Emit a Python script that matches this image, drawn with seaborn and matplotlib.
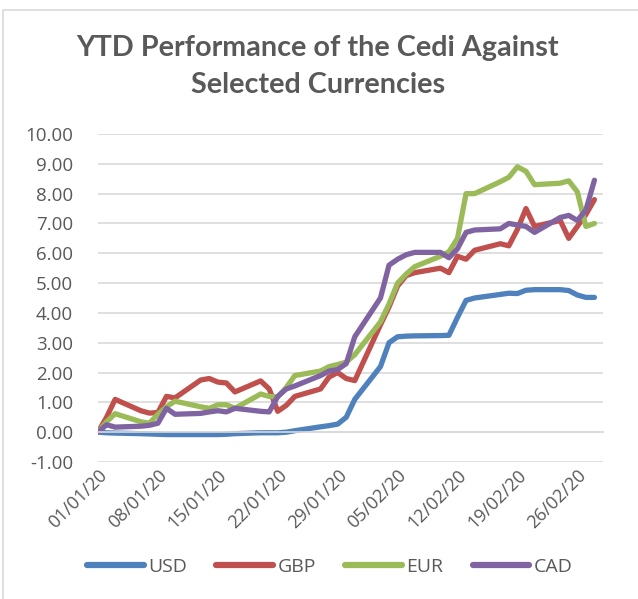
import pandas as pd
import matplotlib.pyplot as plt
import matplotlib.dates as mdates
from matplotlib.patches import Rectangle
import seaborn as sns

# Business days, Jan-Feb 2020
dates = pd.bdate_range('2020-01-01', '2020-02-28')

usd = [0.00, -0.02, -0.03, -0.05, -0.06, -0.07, -0.08, -0.08, -0.08, -0.08,
       -0.08, -0.07, -0.05, -0.02, -0.02, -0.02, 0.00, 0.05, 0.18, 0.22,
       0.27, 0.50, 1.10, 2.20, 3.00, 3.20, 3.22, 3.23, 3.24, 3.25,
       3.85, 4.42, 4.50, 4.62, 4.66, 4.65, 4.76, 4.78, 4.78, 4.75,
       4.60, 4.52, 4.52]
gbp = [0.00, 0.50, 1.10, 0.72, 0.64, 0.66, 1.20, 1.15, 1.75, 1.80,
       1.68, 1.65, 1.35, 1.72, 1.45, 0.70, 0.90, 1.20, 1.45, 1.85,
       2.00, 1.80, 1.73, 3.60, 4.20, 4.90, 5.25, 5.35, 5.50, 5.35,
       5.90, 5.80, 6.10, 6.32, 6.25, 6.80, 7.50, 6.90, 7.10, 6.50,
       6.90, 7.30, 7.80]
eur = [0.00, 0.35, 0.62, 0.35, 0.30, 0.60, 0.85, 1.04, 0.85, 0.80,
       0.92, 0.92, 0.80, 1.28, 1.20, 1.18, 1.50, 1.90, 2.05, 2.20,
       2.27, 2.35, 2.60, 3.70, 4.30, 5.00, 5.30, 5.55, 5.90, 6.05,
       6.50, 8.00, 8.00, 8.40, 8.55, 8.90, 8.75, 8.30, 8.35, 8.43,
       8.06, 6.90, 7.00]
cad = [0.00, 0.25, 0.17, 0.20, 0.23, 0.30, 0.80, 0.60, 0.63, 0.68,
       0.72, 0.68, 0.80, 0.70, 0.68, 1.20, 1.45, 1.55, 1.90, 2.05,
       2.10, 2.30, 3.20, 4.50, 5.60, 5.80, 5.95, 6.03, 6.03, 5.85,
       6.15, 6.70, 6.78, 6.82, 7.00, 6.95, 6.90, 6.70, 7.20, 7.27,
       7.10, 7.45, 8.45]

currencies = ['USD', 'GBP', 'EUR', 'CAD']
colors = ['#4F81BD', '#C0504D', '#9BBB59', '#8064A2']
y_ticks = [-1, 0, 1, 2, 3, 4, 5, 6, 7, 8, 9, 10]
x_ticks = pd.date_range('2020-01-01', '2020-02-26', freq='7D')

df = pd.DataFrame({'date': dates, 'USD': usd, 'GBP': gbp, 'EUR': eur, 'CAD': cad})
long = df.melt(id_vars='date', var_name='currency', value_name='pct')

sns.set_style('white')
plt.rcParams['font.family'] = ['Open Sans', 'DejaVu Sans']
text_color = '#595959'
grid_color = '#d9d9d9'

fig = plt.figure(figsize=(6.38, 5.99), dpi=100)
ax = fig.add_axes([98 / 638, 1 - 462 / 599, (603 - 98) / 638, (462 - 134) / 599])

sns.lineplot(data=long, x='date', y='pct', hue='currency', hue_order=currencies,
             palette=colors, linewidth=3.8, ax=ax, legend=True)

ax.set_xlim(pd.Timestamp('2020-01-01'), pd.Timestamp('2020-02-29'))
ax.set_ylim(-1, 10)
ax.set_yticks(y_ticks)
ax.yaxis.set_major_formatter(plt.FuncFormatter(lambda v, p: f'{v:.2f}'))
ax.set_xticks(x_ticks)
ax.xaxis.set_major_formatter(mdates.DateFormatter('%d/%m/%y'))
ax.grid(axis='y', color=grid_color, linewidth=1.2)
ax.set_axisbelow(True)

for s in ['top', 'right', 'left']:
    ax.spines[s].set_visible(False)
ax.spines['bottom'].set_position(('data', 0))
ax.spines['bottom'].set_color(grid_color)
ax.spines['bottom'].set_linewidth(1.2)

ax.tick_params(axis='y', length=0, pad=18, labelsize=13.5, labelcolor=text_color)
ax.tick_params(axis='x', length=4.5, width=1.2, color=grid_color, direction='out',
               pad=20, labelsize=13, labelcolor=text_color)
for lbl in ax.get_xticklabels():
    lbl.set_rotation(45)
    lbl.set_ha('right')
    lbl.set_va('top')
    lbl.set_rotation_mode('anchor')
ax.set_xlabel('')
ax.set_ylabel('')

handles, labels = ax.get_legend_handles_labels()
ax.legend(handles, labels, loc='center', bbox_to_anchor=(330 / 638, 1 - 567 / 599),
          bbox_transform=fig.transFigure, ncol=4, frameon=False, fontsize=14,
          handlelength=2.9, handletextpad=0.25, columnspacing=1.5, labelcolor=text_color)
for line in ax.get_legend().get_lines():
    line.set_linewidth(4.5)
    line.set_solid_capstyle('round')

title_font = ['Lato', 'DejaVu Sans']
fig.text(0.498, 1 - 48 / 599, 'YTD Performance of the Cedi Against', ha='center', va='center',
         fontsize=20.7, fontweight='bold', color=text_color, family=title_font)
fig.text(0.498, 1 - 85 / 599, 'Selected Currencies', ha='center', va='center',
         fontsize=20.7, fontweight='bold', color=text_color, family=title_font)

fig.patches.append(Rectangle((3 / 638, -0.01), 1.0, 1 - 10 / 599 + 0.01, transform=fig.transFigure,
                             fill=False, edgecolor=grid_color, linewidth=1.2))

fig.savefig('out.png', dpi=100, facecolor='white')
